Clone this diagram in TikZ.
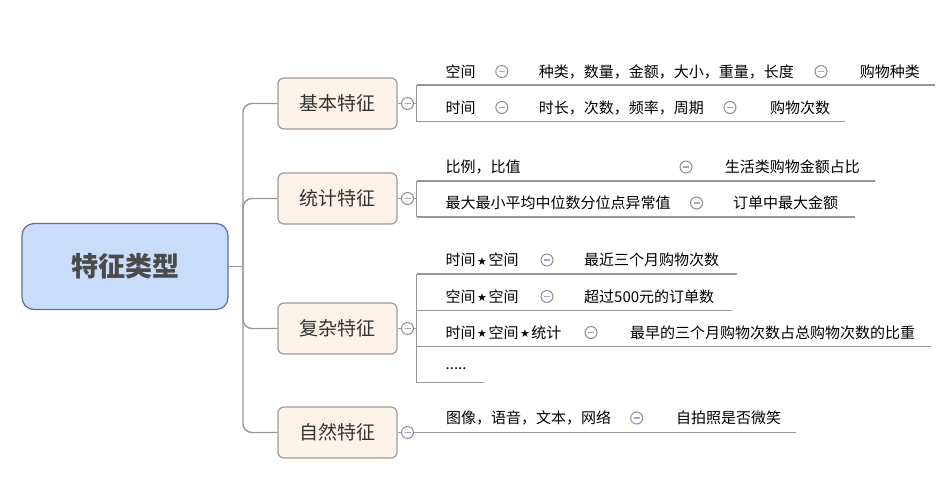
\documentclass[tikz,border=0pt]{standalone}
\usepackage{fontspec}
\setmainfont{Noto Sans CJK SC}
\newfontfamily\dejavu{DejaVu Sans}
\usetikzlibrary{positioning}
\definecolor{rootfill}{HTML}{C9DCFA}
\definecolor{rootline}{HTML}{5A6F98}
\definecolor{roottext}{HTML}{4A4A4A}
\definecolor{brfill}{HTML}{FDF2E8}
\definecolor{brline}{HTML}{A39A93}
\definecolor{brtext}{HTML}{333333}
\definecolor{linkgray}{HTML}{979797}
\definecolor{foldline}{HTML}{8E8E8E}
\definecolor{foldminus}{HTML}{9DAACB}
\newcommand{\xstar}{{\kern1.5pt\dejavu\fontsize{11}{11}\selectfont\raisebox{0.5pt}{★}\kern1.5pt}}
\tikzset{
  root/.style = {draw = rootline, fill = rootfill, line width = 1.2pt, rounded corners = 12pt,
    minimum width = 206pt, minimum height = 86pt, text = roottext,
    font = \fontsize{27}{30}\selectfont\bfseries},
  branch/.style = {draw = brline, fill = brfill, line width = 1.2pt, rounded corners = 6pt,
    minimum width = 119pt, minimum height = 51pt, text = brtext,
    font = \fontsize{19}{22}\selectfont},
  leaf/.style = {anchor = west, inner sep = 0, text = black, font = \fontsize{15}{18}\selectfont},
  fold/.style = {circle, draw = foldline, fill = white, line width = 1pt, minimum size = 12pt,
    inner sep = 0, path picture = {\draw [foldminus, line width = 1.3pt]
      ([xshift = -3pt]path picture bounding box.center) --
      ([xshift = 3pt]path picture bounding box.center);}},
  link/.style = {linkgray, line width = 1.4pt}
}

\begin{document}
\begin{tikzpicture}[x = 1pt, y = -1pt]
  \useasboundingbox (0, 0) rectangle (950, 483);

  \node [root] (root) at (125, 266.5) {特征类型};
  \node [branch] (jiben) at (337.5, 103.5) {基本特征};
  \node [branch] (tongji) at (337.5, 198.5) {统计特征};
  \node [branch] (fuza) at (337.5, 328.5) {复杂特征};
  \node [branch] (ziran) at (337.5, 432.5) {自然特征};

  \coordinate (trunk) at (243, 266.5);
  \draw [link] (root.east) -- (trunk);
  \foreach \b in {jiben, tongji, fuza, ziran}
    \draw [link, rounded corners = 9pt] (trunk) |- (\b.west);

  \node [fold] (fj) at (407.5, 103.5) {};
  \node [fold] (ft) at (407.5, 198.5) {};
  \node [fold] (ff) at (407.5, 328.5) {};
  \node [fold] (fz) at (407.5, 432.5) {};
  \draw [link] (jiben.east) -- (fj);
  \draw [link] (tongji.east) -- (ft);
  \draw [link] (fuza.east) -- (ff);
  \draw [link] (ziran.east) -- (fz);

  % 基本特征
  \coordinate (a1) at (416.5, 85);
  \coordinate (a2) at (416.5, 121.5);
  \coordinate (a1e) at (935, 85);
  \coordinate (a2e) at (845, 121.5);
  \draw [link] (fj) -- (fj -| a1);
  \draw [link] (a1) -- (a2);
  \draw [link] (a1) -- (a1e);
  \draw [link] (a2) -- (a2e);

  \node [leaf] (kongjian) at (445.5, 71.5) {空间};
  \node [fold] (ka) at (501.8, 71.5) {};
  \node [leaf] (zhonglei) at (538.6, 71.5) {种类，数量，金额，大小，重量，长度};
  \node [fold] (kb) at (821, 71.5) {};
  \node [leaf] (gwzl) at (859.6, 71.5) {购物种类};

  \node [leaf] (shijian) at (445.5, 107.5) {时间};
  \node [fold] (sa) at (501.8, 107.5) {};
  \node [leaf] (shichang) at (538.6, 107.5) {时长，次数，频率，周期};
  \node [fold] (sb) at (730, 107.5) {};
  \node [leaf] (gwcs) at (770, 107.5) {购物次数};

  % 统计特征
  \coordinate (b1) at (416.5, 181);
  \coordinate (b2) at (416.5, 217);
  \coordinate (b1e) at (875, 181);
  \coordinate (b2e) at (855, 217);
  \draw [link] (ft) -- (ft -| b1);
  \draw [link] (b1) -- (b2);
  \draw [link] (b1) -- (b1e);
  \draw [link] (b2) -- (b2e);

  \node [leaf] (bili) at (445.5, 167) {比例，比值};
  \node [fold] (ba) at (686, 167) {};
  \node [leaf] (shenghuo) at (724.6, 167) {生活类购物金额占比};

  \node [leaf] (zuida) at (445.5, 203) {最大最小平均中位数分位点异常值};
  \node [fold] (zb) at (696.5, 203) {};
  \node [leaf] (dingdan) at (733, 203) {订单中最大金额};

  % 复杂特征
  \coordinate (c1) at (416.5, 274);
  \coordinate (c2) at (416.5, 310.5);
  \coordinate (c3) at (416.5, 346.5);
  \coordinate (c4) at (416.5, 382.5);
  \coordinate (c1e) at (737, 274);
  \coordinate (c2e) at (732, 310.5);
  \coordinate (c3e) at (931, 346.5);
  \coordinate (c4e) at (484, 382.5);
  \draw [link] (ff) -- (ff -| c1);
  \draw [link] (c1) -- (c4);
  \draw [link] (c1) -- (c1e);
  \draw [link] (c2) -- (c2e);
  \draw [link] (c3) -- (c3e);
  \draw [link] (c4) -- (c4e);

  \node [leaf] (sk) at (445.5, 260) {时间\xstar 空间};
  \node [fold] (ska) at (547, 260) {};
  \node [leaf] (zuijin) at (584, 260) {最近三个月购物次数};

  \node [leaf] (kk) at (445.5, 296.5) {空间\xstar 空间};
  \node [fold] (kka) at (547, 296.5) {};
  \node [leaf] (chaoguo) at (584, 296.5) {超过500元的订单数};

  \node [leaf] (skt) at (445.5, 332.5) {时间\xstar 空间\xstar 统计};
  \node [fold] (skta) at (591, 332.5) {};
  \node [leaf] (zuizao) at (629.8, 332.5) {最早的三个月购物次数占总购物次数的比重};

  \node [leaf] (more) at (445.5, 368.5) {.....};

  % 自然特征
  \coordinate (d1e) at (796, 432.5);
  \draw [link] (fz) -- (d1e);

  \node [leaf] (tuxiang) at (446, 418) {图像，语音，文本，网络};
  \node [fold] (ta) at (636.7, 418) {};
  \node [leaf] (zipai) at (676, 418) {自拍照是否微笑};
\end{tikzpicture}
\end{document}
